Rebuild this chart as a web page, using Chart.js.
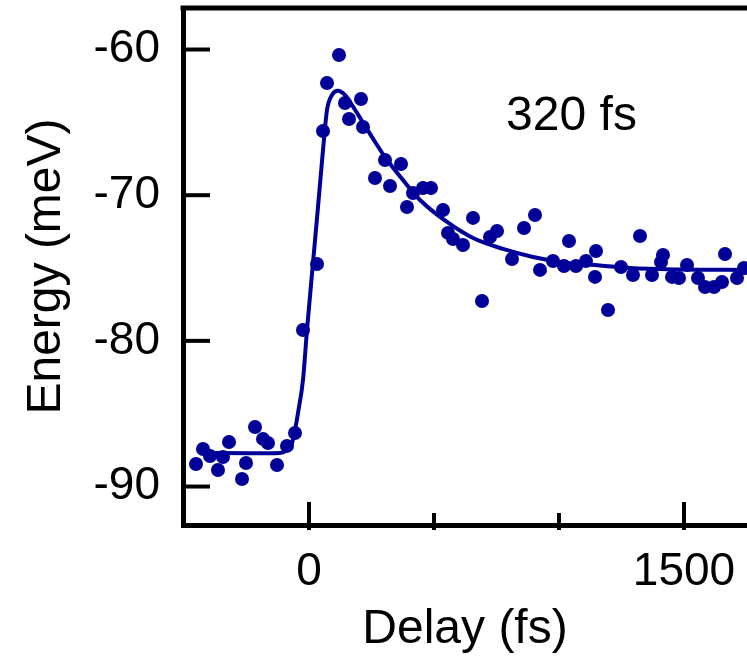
<!DOCTYPE html>
<html>
<head>
<meta charset="utf-8">
<script src="https://cdn.jsdelivr.net/npm/chart.js@4.4.1/dist/chart.umd.min.js"></script>
<style>
  html, body { margin: 0; padding: 0; background: #fff; }
  #wrap { width: 747px; height: 659px; }
</style>
</head>
<body>
<div id="wrap"><canvas id="energyChart" width="747" height="659"></canvas></div>
<script>
// measured peak energy vs pump-probe delay
var delayFs = [-452, -424, -396, -364, -344, -320, -268, -252, -216, -184, -164, -128, -88, -56,
    -24, 32, 56, 72, 120, 144, 160, 208, 216, 264, 304, 324, 368, 392, 416, 456, 488,
    536, 556, 576, 616, 656, 692, 724, 752, 812, 860, 904, 924, 976, 1020, 1040, 1068,
    1108, 1148, 1144, 1196, 1248, 1296, 1324, 1372, 1408, 1416, 1452, 1480, 1512, 1556,
    1584, 1620, 1652, 1664, 1712, 1740];
var energyMeV = [-88.45, -87.42, -87.90, -88.86, -87.97, -86.94, -89.48, -88.38, -85.91, -86.73,
    -87.01, -88.52, -87.21, -86.32, -79.25, -74.72, -65.59, -62.30, -60.38, -63.67, -64.77,
    -63.40, -65.32, -68.82, -67.58, -69.37, -67.86, -70.81, -69.85, -69.51, -69.51, -71.02,
    -72.59, -73.01, -73.42, -71.56, -77.26, -72.87, -72.46, -74.38, -72.25, -71.36, -75.13,
    -74.52, -74.86, -73.14, -74.86, -74.52, -73.83, -75.61, -77.88, -74.93, -75.48, -72.80,
    -75.48, -74.58, -74.10, -75.61, -75.68, -74.79, -75.68, -76.30, -76.30, -75.96, -74.04,
    -75.68, -75.00];

// fitted rise + exponential decay curve
var fitDelayFs = [-436, -236, -116, -88, -68, -56, -44, -24, -8, 16, 36, 56, 72, 92, 116, 144,
    172, 212, 252, 304, 376, 444, 552, 656, 776, 896, 1032, 1164, 1284, 1484, 1752];
var fitEnergyMeV = [-87.69, -87.71, -87.69, -87.49, -87.01, -86.12, -84.95, -82.68, -79.25,
    -74.65, -70.81, -66.90, -64.15, -63.12, -62.83, -63.12, -63.81, -64.91, -66.01, -67.38,
    -68.96, -70.33, -71.84, -72.94, -73.69, -74.24, -74.65, -74.82, -75.00, -75.10, -75.13];

var xLabelTicks = [0, 1500];
var xMinorTicks = [500, 1000];
var yLabelTicks = [-90, -80, -70, -60];
var lifetimeText = '320 fs';
var lifetimePos = { x: 1050, y: -64.6 };

var blue = '#000099';
var font = "'Liberation Sans', Arial, sans-serif";

function toXY(xs, ys) {
    return xs.map(function (x, i) { return { x: x, y: ys[i] }; });
}

// closed top edge, inward tick marks and the lifetime label
var framePlugin = {
    id: 'frame',
    afterDraw: function (chart) {
        var ctx = chart.ctx;
        var area = chart.chartArea;
        var xs = chart.scales.x, ys = chart.scales.y;
        ctx.save();
        ctx.strokeStyle = '#000';
        ctx.lineWidth = 5;
        ctx.beginPath();
        ctx.moveTo(area.left - 2.5, area.top);
        ctx.lineTo(area.right, area.top);
        ctx.stroke();

        ctx.lineWidth = 4;
        yLabelTicks.forEach(function (v) {
            var py = ys.getPixelForValue(v);
            ctx.beginPath();
            ctx.moveTo(area.left, py);
            ctx.lineTo(area.left + 27, py);
            ctx.stroke();
        });
        xLabelTicks.forEach(function (v) {
            var px = xs.getPixelForValue(v);
            ctx.beginPath();
            ctx.moveTo(px, area.bottom + 5);
            ctx.lineTo(px, area.bottom - 23);
            ctx.stroke();
        });
        xMinorTicks.forEach(function (v) {
            var px = xs.getPixelForValue(v);
            ctx.beginPath();
            ctx.moveTo(px, area.bottom + 5);
            ctx.lineTo(px, area.bottom - 12);
            ctx.stroke();
        });

        ctx.fillStyle = '#000';
        ctx.font = '48px ' + font;
        ctx.textAlign = 'center';
        ctx.textBaseline = 'middle';
        ctx.fillText(lifetimeText, xs.getPixelForValue(lifetimePos.x), ys.getPixelForValue(lifetimePos.y));
        ctx.restore();
    }
};

var ctx = document.getElementById('energyChart').getContext('2d');
var chart = new Chart(ctx, {
    type: 'scatter',
    data: {
        datasets: [{
            label: 'data',
            data: toXY(delayFs, energyMeV),
            backgroundColor: blue,
            borderColor: blue,
            pointRadius: 7,
            borderWidth: 0,
            showLine: false
        },
        {
            label: 'fit',
            data: toXY(fitDelayFs, fitEnergyMeV),
            borderColor: blue,
            borderWidth: 4,
            pointRadius: 0,
            showLine: true,
            fill: false,
            cubicInterpolationMode: 'monotone'
        }]
    },
    options: {
        responsive: false,
        animation: false,
        devicePixelRatio: 1,
        layout: { autoPadding: false, padding: { top: 8, left: 0, right: 0, bottom: 0 } },
        plugins: { legend: { display: false }, tooltip: { enabled: false } },
        scales: {
            x: {
                type: 'linear',
                min: -504,
                max: 1752,
                afterFit: function (scale) {
                    scale.height = 134;
                    scale.paddingLeft = 0;
                    scale.paddingRight = 0;
                },
                afterBuildTicks: function (scale) {
                    scale.ticks = xLabelTicks.map(function (v) { return { value: v }; });
                },
                grid: { display: true, drawOnChartArea: false, drawTicks: false },
                border: { display: true, color: '#000', width: 5 },
                ticks: {
                    color: '#000',
                    padding: 20,
                    maxRotation: 0,
                    font: { family: font, size: 46 },
                    callback: function (v) { return String(v); }
                },
                title: {
                    display: true,
                    text: 'Delay (fs)',
                    color: '#000',
                    font: { family: font, size: 48 },
                    padding: { top: 0, bottom: 0 }
                }
            },
            y: {
                type: 'linear',
                min: -92.64,
                max: -57.15,
                afterFit: function (scale) {
                    scale.width = 183;
                    scale.paddingTop = 0;
                    scale.paddingBottom = 0;
                },
                afterBuildTicks: function (scale) {
                    scale.ticks = yLabelTicks.map(function (v) { return { value: v }; });
                },
                grid: { display: true, drawOnChartArea: false, drawTicks: false },
                border: { display: true, color: '#000', width: 5 },
                ticks: {
                    color: '#000',
                    padding: 23,
                    font: { family: font, size: 46 },
                    callback: function (v) { return String(v); }
                },
                title: {
                    display: true,
                    text: 'Energy (meV)',
                    color: '#000',
                    font: { family: font, size: 48 },
                    padding: { top: 18, bottom: 0 }
                }
            }
        }
    },
    plugins: [framePlugin]
});
</script>
</body>
</html>
